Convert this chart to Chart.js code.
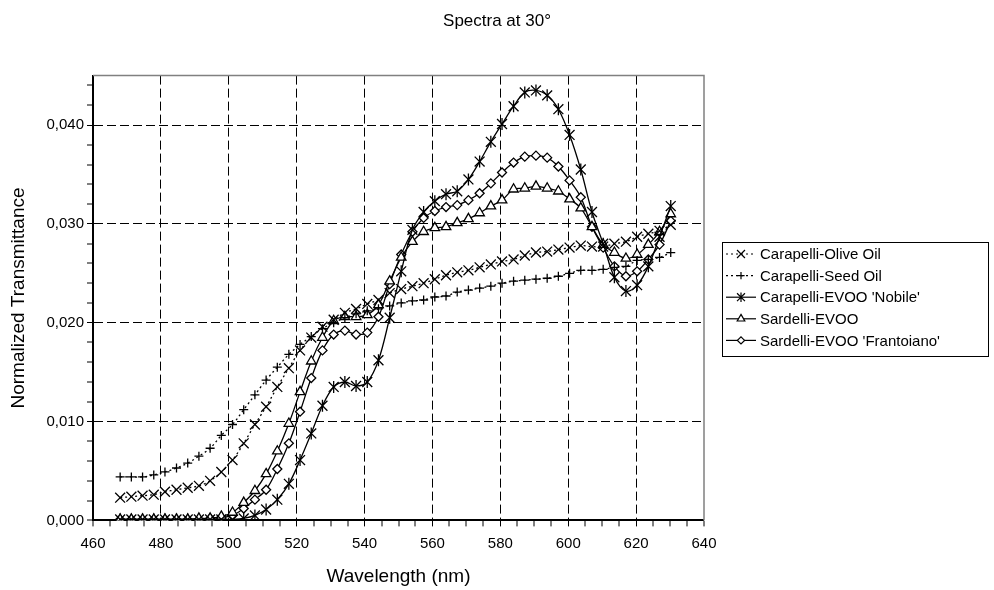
<!DOCTYPE html>
<html>
<head>
<meta charset="utf-8">
<title>Spectra at 30°</title>
<script src="https://cdn.jsdelivr.net/npm/chart.js@4.4.1/dist/chart.umd.min.js"></script>
<style>
    html, body { margin: 0; padding: 0; background: #fff; }
</style>
</head>
<body>
<canvas id="spectraChart" width="994" height="590"></canvas>
<script>
// wavelengths (nm) of the measured points
const wavelengths = [
    468.0, 471.3, 474.6, 477.9, 481.2, 484.6, 487.9, 491.2, 494.5, 497.8,
    501.1, 504.4, 507.7, 511.0, 514.3, 517.7, 521.0, 524.3, 527.6, 530.9,
    534.2, 537.5, 540.8, 544.1, 547.4, 550.8, 554.1, 557.4, 560.7, 564.0,
    567.3, 570.6, 573.9, 577.2, 580.5, 583.9, 587.2, 590.5, 593.8, 597.1,
    600.4, 603.7, 607.0, 610.3, 613.6, 617.0, 620.3, 623.6, 626.9, 630.2
];

const oliveOil = [
    0.0023, 0.0024, 0.0025, 0.0026, 0.0029, 0.0031, 0.0033, 0.0035, 0.0040, 0.0049,
    0.0061, 0.0078, 0.0097, 0.0115, 0.0135, 0.0154, 0.0172, 0.0185, 0.0196, 0.0203,
    0.0210, 0.0214, 0.0219, 0.0223, 0.0230, 0.0234, 0.0237, 0.0240, 0.0244, 0.0248,
    0.0251, 0.0253, 0.0256, 0.0259, 0.0262, 0.0264, 0.0268, 0.0271, 0.0272, 0.0274,
    0.0276, 0.0278, 0.0277, 0.0277, 0.0280, 0.0282, 0.0287, 0.0290, 0.0293, 0.0299
];

const seedOil = [
    0.0044, 0.0044, 0.0044, 0.0046, 0.0049, 0.0053, 0.0058, 0.0065, 0.0073, 0.0086,
    0.0097, 0.0112, 0.0127, 0.0142, 0.0155, 0.0168, 0.0178, 0.0186, 0.0194, 0.0200,
    0.0205, 0.0209, 0.0212, 0.0214, 0.0217, 0.0220, 0.0222, 0.0223, 0.0226, 0.0227,
    0.0231, 0.0233, 0.0235, 0.0237, 0.0240, 0.0242, 0.0243, 0.0244, 0.0245, 0.0247,
    0.0250, 0.0253, 0.0253, 0.0254, 0.0256, 0.0257, 0.0263, 0.0264, 0.0266, 0.0271
];

const evooNobile = [
    0.0001, 0.0001, 0.0001, 0.0001, 0.0001, 0.0001, 0.0001, 0.0001, 0.0001, 0.0001,
    0.0001, 0.0002, 0.0005, 0.0011, 0.0021, 0.0037, 0.0061, 0.0088, 0.0116, 0.0135,
    0.0140, 0.0136, 0.0140, 0.0162, 0.0205, 0.0252, 0.0294, 0.0312, 0.0323, 0.0330,
    0.0333, 0.0345, 0.0363, 0.0383, 0.0401, 0.0419, 0.0433, 0.0435, 0.0430, 0.0416,
    0.0390, 0.0355, 0.0312, 0.0280, 0.0246, 0.0232, 0.0238, 0.0257, 0.0287, 0.0318
];

const sardelliEvoo = [
    0.0001, 0.0001, 0.0001, 0.0001, 0.0001, 0.0001, 0.0001, 0.0002, 0.0002, 0.0004,
    0.0008, 0.0018, 0.0030, 0.0047, 0.0070, 0.0098, 0.0130, 0.0161, 0.0185, 0.0202,
    0.0206, 0.0206, 0.0208, 0.0218, 0.0242, 0.0266, 0.0282, 0.0292, 0.0296, 0.0297,
    0.0301, 0.0305, 0.0311, 0.0318, 0.0324, 0.0335, 0.0336, 0.0338, 0.0336, 0.0333,
    0.0325, 0.0316, 0.0297, 0.0279, 0.0271, 0.0265, 0.0269, 0.0279, 0.0292, 0.0310
];

const frantoiano = [
    0.0001, 0.0001, 0.0001, 0.0001, 0.0001, 0.0001, 0.0001, 0.0001, 0.0002, 0.0003,
    0.0005, 0.0012, 0.0021, 0.0031, 0.0052, 0.0078, 0.0110, 0.0144, 0.0172, 0.0188,
    0.0192, 0.0188, 0.0190, 0.0206, 0.0239, 0.0269, 0.0292, 0.0306, 0.0313, 0.0317,
    0.0319, 0.0324, 0.0331, 0.0341, 0.0352, 0.0362, 0.0368, 0.0369, 0.0367, 0.0358,
    0.0344, 0.0327, 0.0297, 0.0276, 0.0257, 0.0247, 0.0252, 0.0264, 0.0279, 0.0303
];

const seriesNames = [
    "Carapelli-Olive Oil",
    "Carapelli-Seed Oil",
    "Carapelli-EVOO 'Nobile'",
    "Sardelli-EVOO",
    "Sardelli-EVOO 'Frantoiano'"
];

// y axis tick positions (minor every 0.002, labels on the 0.010 steps)
const yTicks = [
    0.000, 0.002, 0.004, 0.006, 0.008, 0.010, 0.012, 0.014, 0.016, 0.018, 0.020, 0.022,
    0.024, 0.026, 0.028, 0.030, 0.032, 0.034, 0.036, 0.038, 0.040, 0.042, 0.044
];
const yLabels = ["0,000", "0,010", "0,020", "0,030", "0,040"];

const chartTitle = "Spectra at 30°";
const FONT = '"Liberation Sans", Arial, sans-serif';

document.addEventListener("DOMContentLoaded", function () {
    Chart.defaults.font.family = FONT;
    Chart.defaults.color = "#000";

    // marker per series; "asterisk" is crossRot plus a vertical bar (excel star)
    const styles = [
        { marker: "crossRot", radius: 7, dash: [2, 3] },
        { marker: "cross", radius: 4.5, dash: [2, 3] },
        { marker: "asterisk", radius: 7, dash: [] },
        { marker: "triangle", radius: 5.5, dash: [] },
        { marker: "rectRot", radius: 4.5, dash: [] }
    ];
    const allSeries = [oliveOil, seedOil, evooNobile, sardelliEvoo, frantoiano];

    function toPoints(values) {
        return values.map((v, k) => ({ x: wavelengths[k], y: v }));
    }

    const datasets = allSeries.map((values, i) => ({
        label: seriesNames[i],
        data: toPoints(values),
        borderColor: "#000",
        borderWidth: 1.3,
        borderDash: styles[i].dash,
        tension: 0.35,
        pointStyle: styles[i].marker === "asterisk" ? "crossRot" : styles[i].marker,
        pointRadius: styles[i].radius,
        pointBorderColor: "#000",
        pointBackgroundColor: "#fff",
        pointBorderWidth: 1.3,
        fill: false
    }));

    // vertical bar of the asterisk markers
    datasets.push({
        label: seriesNames[2] + " bar",
        data: toPoints(evooNobile),
        showLine: false,
        pointStyle: "line",
        pointRotation: 90,
        pointRadius: 6,
        pointBorderColor: "#000",
        pointBorderWidth: 1.3
    });

    function isMajorY(v) {
        return Math.abs(v / 0.01 - Math.round(v / 0.01)) < 1e-6;
    }

    // grey frame on top/right of the plot area + title centred on the page
    const frame = {
        id: "frame",
        beforeDatasetsDraw(chart) {
            const { ctx, chartArea: a } = chart;
            ctx.save();
            ctx.strokeStyle = "#808080";
            ctx.lineWidth = 1.5;
            ctx.beginPath();
            ctx.moveTo(a.left, a.top);
            ctx.lineTo(a.right, a.top);
            ctx.lineTo(a.right, a.bottom);
            ctx.stroke();
            ctx.font = "17px " + FONT;
            ctx.fillStyle = "#000";
            ctx.textAlign = "center";
            ctx.textBaseline = "middle";
            ctx.fillText(chartTitle, chart.width / 2, 21);
            ctx.restore();
        }
    };

    function drawMarker(ctx, style, r, x, y) {
        ctx.beginPath();
        if (style === "crossRot" || style === "asterisk") {
            const d = r * Math.SQRT1_2;
            ctx.moveTo(x - d, y - d); ctx.lineTo(x + d, y + d);
            ctx.moveTo(x + d, y - d); ctx.lineTo(x - d, y + d);
            if (style === "asterisk") {
                ctx.moveTo(x, y - r * 0.85); ctx.lineTo(x, y + r * 0.85);
            }
            ctx.stroke();
        } else if (style === "cross") {
            ctx.moveTo(x - r, y); ctx.lineTo(x + r, y);
            ctx.moveTo(x, y - r); ctx.lineTo(x, y + r);
            ctx.stroke();
        } else if (style === "triangle") {
            ctx.moveTo(x, y - r);
            ctx.lineTo(x + r * 0.866, y + r / 2);
            ctx.lineTo(x - r * 0.866, y + r / 2);
            ctx.closePath();
            ctx.fill(); ctx.stroke();
        } else if (style === "rectRot") {
            ctx.moveTo(x - r, y); ctx.lineTo(x, y - r);
            ctx.lineTo(x + r, y); ctx.lineTo(x, y + r);
            ctx.closePath();
            ctx.fill(); ctx.stroke();
        }
    }

    // boxed legend on the right, line sample with the marker in the middle
    const boxLegend = {
        id: "boxLegend",
        afterDraw(chart) {
            const ctx = chart.ctx;
            const left = 722, top = 242, w = 266, h = 114;
            ctx.save();
            ctx.strokeStyle = "#000";
            ctx.lineWidth = 1;
            ctx.strokeRect(left + 0.5, top + 0.5, w, h);
            ctx.font = "15px " + FONT;
            ctx.textBaseline = "middle";
            ctx.fillStyle = "#000";
            seriesNames.forEach((name, i) => {
                const y = top + 12 + i * 21.6;
                ctx.lineWidth = 1.2;
                ctx.setLineDash(styles[i].dash);
                ctx.beginPath();
                ctx.moveTo(left + 4, y);
                ctx.lineTo(left + 34, y);
                ctx.stroke();
                ctx.setLineDash([]);
                ctx.fillStyle = "#fff";
                drawMarker(ctx, styles[i].marker, styles[i].radius * 0.8, left + 19, y);
                ctx.fillStyle = "#000";
                ctx.fillText(name, left + 38, y + 1);
            });
            ctx.restore();
        }
    };

    new Chart(document.getElementById("spectraChart"), {
        type: "line",
        data: { datasets: datasets },
        options: {
            responsive: false,
            animation: false,
            events: [],
            layout: { padding: { left: 0, right: 290, top: 75.6, bottom: 0 } },
            plugins: {
                legend: { display: false },
                tooltip: { enabled: false },
                title: { display: false }
            },
            scales: {
                x: {
                    type: "linear",
                    min: 460,
                    max: 640,
                    afterFit(scale) { scale.height = 69.6; },
                    ticks: {
                        stepSize: 5,
                        autoSkip: false,
                        maxRotation: 0,
                        padding: 8,
                        font: { size: 15 },
                        callback: v => (v % 20 === 0 ? String(v) : "")
                    },
                    grid: {
                        color: "#000",
                        lineWidth: ctx => (ctx.tick && ctx.tick.value % 20 === 0 &&
                            ctx.tick.value > 460 && ctx.tick.value < 640 ? 1 : 0),
                        tickColor: "#000",
                        tickWidth: 1,
                        tickLength: 6
                    },
                    border: { color: "#000", width: 2, dash: [9, 4] },
                    title: {
                        display: true,
                        text: "Wavelength (nm)",
                        font: { size: 19 },
                        padding: { top: 0, bottom: 2 }
                    }
                },
                y: {
                    min: 0,
                    max: 0.045,
                    afterFit(scale) { scale.width = 93; },
                    afterBuildTicks(scale) {
                        scale.ticks = yTicks.map(v => ({ value: v }));
                    },
                    ticks: {
                        autoSkip: false,
                        padding: 3,
                        font: { size: 15 },
                        callback: v => (isMajorY(v) ? yLabels[Math.round(v / 0.01)] : "")
                    },
                    grid: {
                        color: "#000",
                        lineWidth: ctx => (ctx.tick && isMajorY(ctx.tick.value) && ctx.tick.value > 0 ? 1 : 0),
                        tickColor: "#000",
                        tickWidth: 1,
                        tickLength: 6
                    },
                    border: { color: "#000", width: 2, dash: [9, 4] },
                    title: {
                        display: true,
                        text: "Normalized Transmittance",
                        font: { size: 19 },
                        padding: { top: 7, bottom: 0 }
                    }
                }
            }
        },
        plugins: [frame, boxLegend]
    });
});
</script>
</body>
</html>
